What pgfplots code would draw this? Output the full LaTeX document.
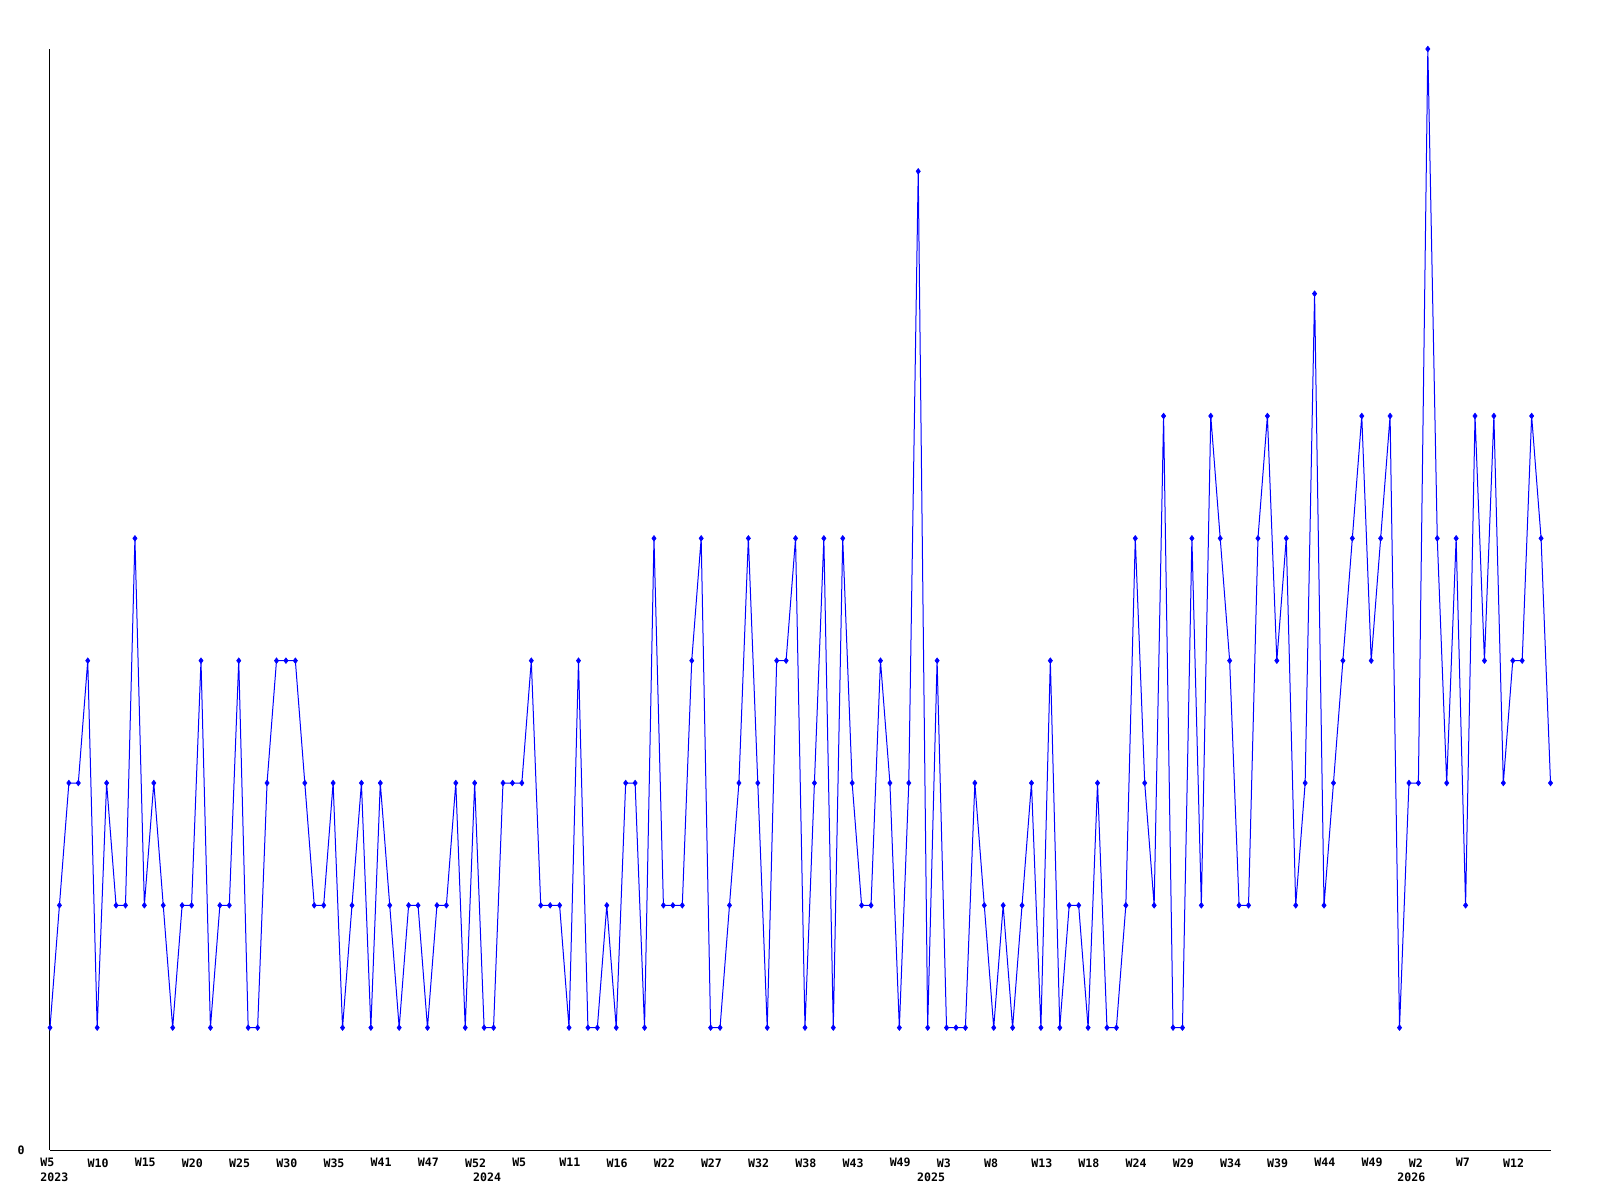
\documentclass[border=0pt]{standalone}
\usepackage{fontspec}
\usepackage{pgfplots}
\pgfplotsset{compat=1.18}
\newfontfamily\labfont{DejaVu Sans Mono}
\definecolor{lineblue}{RGB}{0,0,255}
\pgfplotstableread{
x y
0 1
1 2
2 3
3 3
4 4
5 1
6 3
7 2
8 2
9 5
10 2
11 3
12 2
13 1
14 2
15 2
16 4
17 1
18 2
19 2
20 4
21 1
22 1
23 3
24 4
25 4
26 4
27 3
28 2
29 2
30 3
31 1
32 2
33 3
34 1
35 3
36 2
37 1
38 2
39 2
40 1
41 2
42 2
43 3
44 1
45 3
46 1
47 1
48 3
49 3
50 3
51 4
52 2
53 2
54 2
55 1
56 4
57 1
58 1
59 2
60 1
61 3
62 3
63 1
64 5
65 2
66 2
67 2
68 4
69 5
70 1
71 1
72 2
73 3
74 5
75 3
76 1
77 4
78 4
79 5
80 1
81 3
82 5
83 1
84 5
85 3
86 2
87 2
88 4
89 3
90 1
91 3
92 8
93 1
94 4
95 1
96 1
97 1
98 3
99 2
100 1
101 2
102 1
103 2
104 3
105 1
106 4
107 1
108 2
109 2
110 1
111 3
112 1
113 1
114 2
115 5
116 3
117 2
118 6
119 1
120 1
121 5
122 2
123 6
124 5
125 4
126 2
127 2
128 5
129 6
130 4
131 5
132 2
133 3
134 7
135 2
136 3
137 4
138 5
139 6
140 4
141 5
142 6
143 1
144 3
145 3
146 9
147 5
148 3
149 5
150 2
151 6
152 4
153 6
154 3
155 4
156 4
157 6
158 5
159 3
}\datatable
\begin{document}
\begin{tikzpicture}
\path (0,0) rectangle (800pt,600pt);
\begin{axis}[
  at={(25pt,25pt)}, anchor=south west,
  scale only axis,
  width=750.25pt, height=550.5pt,
  xmin=0, xmax=159, ymin=0, ymax=9,
  axis x line*=bottom, axis y line*=left,
  x axis line style={-, line width=0.5pt},
  y axis line style={-, line width=0.5pt},
  major tick length=0pt,
  tick style={draw=none},
  clip=false,
  xtick={0,5,...,155},
  xticklabels={W5,W10,W15,W20,W25,W30,W35,W41,W47,W52,W5,W11,W16,W22,W27,W32,W38,W43,W49,W3,W8,W13,W18,W24,W29,W34,W39,W44,W49,W2,W7,W12},
  xticklabel style={anchor=north west, inner sep=0pt, xshift=-5pt, yshift=-4pt, font=\labfont\bfseries\fontsize{5.8}{6}\selectfont},
  ytick={0},
  yticklabels={0},
  yticklabel style={anchor=east, inner sep=0pt, xshift=-12.5pt, font=\labfont\bfseries\fontsize{5.8}{6}\selectfont},
]
\addplot[color=lineblue, line width=0.5pt, mark=diamond*, mark size=1.4pt, mark options={fill=lineblue, draw=lineblue, line width=0.3pt}] table[x=x,y=y] {\datatable};
\node[anchor=north west, inner sep=0pt, font=\labfont\bfseries\fontsize{5.8}{6}\selectfont, xshift=-5pt, yshift=-11pt] at (axis cs:0,0) {2023};
\node[anchor=north west, inner sep=0pt, font=\labfont\bfseries\fontsize{5.8}{6}\selectfont, xshift=-5pt, yshift=-11pt] at (axis cs:45.86,0) {2024};
\node[anchor=north west, inner sep=0pt, font=\labfont\bfseries\fontsize{5.8}{6}\selectfont, xshift=-5pt, yshift=-11pt] at (axis cs:92.9,0) {2025};
\node[anchor=north west, inner sep=0pt, font=\labfont\bfseries\fontsize{5.8}{6}\selectfont, xshift=-5pt, yshift=-11pt] at (axis cs:143.8,0) {2026};
\end{axis}
\end{tikzpicture}
\end{document}
